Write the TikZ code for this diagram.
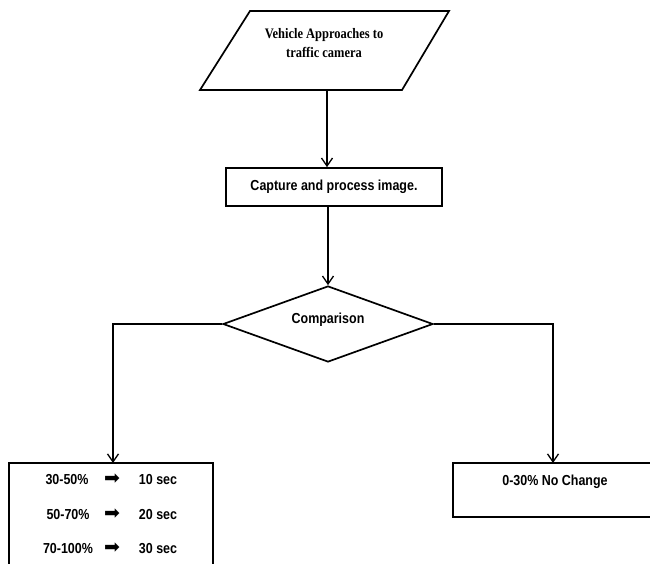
\documentclass[tikz,border=0pt]{standalone}
\usepackage{fontspec}
\setmainfont{Liberation Serif}[FakeStretch=0.86]
\setsansfont{Liberation Sans}[FakeStretch=0.86]
\newfontfamily\symfont{DejaVu Sans}
\usetikzlibrary{arrows.meta,shapes.geometric}
\tikzset{
  box/.style={draw, line width=1.7pt, inner sep=0pt},
  conn/.style={line width=1.6pt},
  arr/.style={conn, -{Straight Barb[length=8pt,width=11pt,line width=1.3pt]}},
  sanstxt/.style={font=\sffamily\bfseries\fontsize{14.5}{16}\selectfont, inner sep=0pt},
  rowtxt/.style={sanstxt, anchor=base},
  seriftxt/.style={font=\rmfamily\bfseries\fontsize{14.5}{19}\selectfont, align=center, inner sep=0pt},
  symtxt/.style={font=\symfont\fontsize{19}{19}\selectfont, inner sep=0pt, anchor=base},
}
\begin{document}
\begin{tikzpicture}[x=1pt,y=-1pt]
\useasboundingbox (0,0) rectangle (650,563);
\clip (0,0) rectangle (650,563);
% parallelogram
\coordinate (ptl) at (250,11);
\coordinate (ptr) at (449,11);
\coordinate (pbr) at (402,90);
\coordinate (pbl) at (200,90);
\draw[line width=1.7pt, line join=miter] (ptl) -- (ptr) -- (pbr) -- (pbl) -- cycle;
\node[seriftxt] (veh) at (324,43) {Vehicle Approaches to\\traffic camera};
\coordinate (pb) at (327,90);
% capture box
\node[box, minimum width=216pt, minimum height=38pt, sanstxt] (cap) at (334,187) {Capture and process image.};
% diamond
\node[box, diamond, minimum width=210pt, minimum height=76pt, sanstxt] (cmp) at (328,324) {};
\node[sanstxt] (cmptxt) at (328,320) {Comparison};
% left box
\node[box, minimum width=204pt, minimum height=160pt] (lb) at (111,543) {};
\node[rowtxt] (r1a) at (67,484) {30-50\%};
\node[symtxt] (r1b) at (112,484) {➡};
\node[rowtxt] (r1c) at (158,484) {10 sec};
\node[rowtxt] (r2a) at (68,519) {50-70\%};
\node[symtxt] (r2b) at (112,519) {➡};
\node[rowtxt] (r2c) at (158,519) {20 sec};
\node[rowtxt] (r3a) at (68,553) {70-100\%};
\node[symtxt] (r3b) at (112,553) {➡};
\node[rowtxt] (r3c) at (158,553) {30 sec};
% right box
\node[box, minimum width=247pt, minimum height=54pt] (rb) at (576.5,490) {};
\node[sanstxt] (rbt) at (555,482) {0-30\% No Change};
% connectors
\coordinate (lt) at (113,463);
\coordinate (rt) at (553,463);
\draw[arr] (pb) -- (pb |- cap.north);
\draw[arr] (cmp.north |- cap.south) -- (cmp.north);
\draw[arr] (cmp.west) -| (lt);
\draw[arr] (cmp.east) -| (rt);
\end{tikzpicture}
\end{document}
